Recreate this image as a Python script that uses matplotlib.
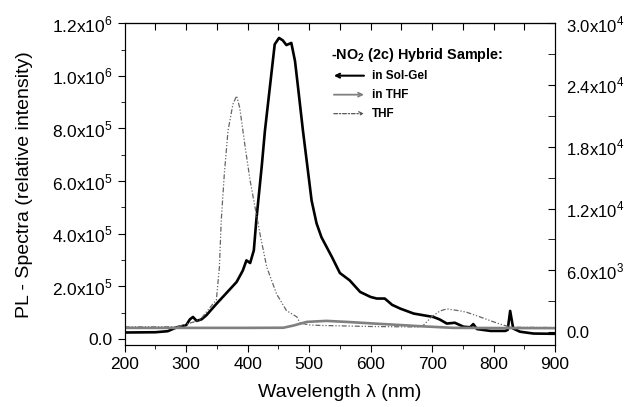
import numpy as np
import matplotlib
matplotlib.use("Agg")
import matplotlib.pyplot as plt
from matplotlib.ticker import FuncFormatter, MultipleLocator

plt.rcParams["font.family"] = ["Liberation Sans", "DejaVu Sans"]
plt.rcParams["mathtext.fontset"] = "custom"
plt.rcParams["mathtext.rm"] = "Liberation Sans"
plt.rcParams["mathtext.bf"] = "Liberation Sans:bold"

# in Sol-Gel (left axis, units of 1e6)
solgel_nm = [200, 250, 270, 285, 300, 306, 311, 317, 325, 333, 350, 371, 382, 392,
             398, 404, 410, 414, 423, 428, 436, 444, 451, 457, 463, 471, 477, 482,
             490, 496, 504, 512, 520, 537, 550, 566, 583, 600, 610, 623, 635, 648,
             670, 702, 712, 724, 737, 751, 762, 767, 773, 795, 819, 823, 827, 832,
             843, 865, 900]
solgel_val = [0.025, 0.026, 0.030, 0.045, 0.053, 0.075, 0.084, 0.069, 0.075, 0.091,
              0.136, 0.189, 0.217, 0.260, 0.299, 0.289, 0.337, 0.450, 0.660, 0.790,
              0.955, 1.120, 1.144, 1.135, 1.117, 1.125, 1.056, 0.955, 0.790, 0.677,
              0.526, 0.440, 0.387, 0.312, 0.251, 0.223, 0.179, 0.160, 0.154, 0.154,
              0.130, 0.116, 0.097, 0.084, 0.075, 0.059, 0.062, 0.047, 0.045, 0.057,
              0.038, 0.031, 0.031, 0.035, 0.107, 0.040, 0.028, 0.021, 0.020]

# in THF (right axis)
inthf_nm = [200, 300, 400, 458, 475, 496, 528, 560, 604, 640, 680, 734, 800, 900]
inthf_val = [416, 416, 416, 430, 650, 997, 1094, 1000, 842, 720, 580, 420, 400, 390]

# THF (right axis)
thf_nm = [200, 285, 300, 322, 344, 349, 354, 357, 362, 368, 376, 382, 387, 396, 404,
          412, 420, 431, 447, 463, 480, 485, 500, 520, 600, 680, 686, 699, 713, 724,
          746, 756, 778, 800, 816, 830, 900]
thf_val = [510, 520, 775, 1160, 2780, 3100, 6320, 10840, 15360, 19550, 22140, 22940,
           21810, 17940, 14710, 12130, 9550, 6320, 3710, 2100, 1480, 900, 700, 650,
           550, 500, 680, 1480, 2060, 2260, 2060, 1940, 1480, 1000, 680, 480, 450]

left_ticks = [0, 0.2e6, 0.4e6, 0.6e6, 0.8e6, 1.0e6, 1.2e6]
right_ticks = [0, 6000, 12000, 18000, 24000, 30000]


def sci_fmt(v, pos):
    if abs(v) < 1e-9:
        return "0.0"
    e = int(np.floor(np.log10(abs(v)) + 1e-9))
    m = v / 10 ** e
    return f"{m:.1f}x10$^{{{e}}}$"


fig = plt.figure(figsize=(6.3, 4.07), dpi=100)
ax = fig.add_axes([0.198, 0.152, 0.683, 0.791])
ax2 = ax.twinx()

ax.plot(solgel_nm, np.array(solgel_val) * 1e6, color="black", lw=1.9, zorder=3)
ax2.plot(inthf_nm, inthf_val, color="#808080", lw=1.9, zorder=2)
ax2.plot(thf_nm, thf_val, color="#666666", lw=0.9, ls=(0, (4, 1.5, 1, 1.5, 1, 1.5)), zorder=1)

ax.set_xlim(200, 900)
ax.set_ylim(-0.023e6, 1.2e6)
ax2.set_ylim(-1260, 30000)

ax.set_yticks(left_ticks)
ax.yaxis.set_minor_locator(MultipleLocator(0.1e6))
ax.yaxis.set_major_formatter(FuncFormatter(sci_fmt))
ax.xaxis.set_major_locator(MultipleLocator(100))
ax.xaxis.set_minor_locator(MultipleLocator(50))
ax.tick_params(axis="both", which="major", direction="out", length=5, labelsize=12.5)
ax.tick_params(axis="both", which="minor", direction="out", length=3)

ax2.set_yticks(right_ticks)
ax2.yaxis.set_minor_locator(MultipleLocator(3000))
ax2.yaxis.set_major_formatter(FuncFormatter(sci_fmt))
ax2.tick_params(axis="y", which="major", direction="in", length=5, labelsize=12, pad=8)
ax2.tick_params(axis="y", which="minor", direction="in", length=5)

top = ax.secondary_xaxis("top")
top.set_xticks(np.arange(250, 900, 50))
top.set_xticklabels([])
top.tick_params(direction="in", length=5)

ax.set_xlabel("Wavelength λ (nm)", fontsize=14, labelpad=9)
ax.set_ylabel("PL - Spectra (relative intensity)", fontsize=14, labelpad=14)

# legend-like annotation
ax.text(0.48, 0.90, r"-NO$_\mathbf{2}$ (2c) Hybrid Sample:", transform=ax.transAxes,
        fontsize=10.4, fontweight="bold", va="center")
rows = [("in Sol-Gel", "black", "-", 1.5, "<-"),
        ("in THF", "#808080", "-", 1.3, "->"),
        ("THF", "#555555", (0, (3, 1.5, 1, 1.5)), 0.9, "->")]
for i, (lab, col, ls, lw, style) in enumerate(rows):
    y = 0.837 - i * 0.059
    ax.annotate("", xy=(0.556, y), xytext=(0.486, y), xycoords="axes fraction",
                arrowprops=dict(arrowstyle=style, color=col, lw=lw, ls=ls,
                                shrinkA=0, shrinkB=0, mutation_scale=7))
    ax.text(0.575, y, lab, transform=ax.transAxes, fontsize=8.5,
            fontweight="bold", va="center")

fig.savefig("out.png", dpi=100)
